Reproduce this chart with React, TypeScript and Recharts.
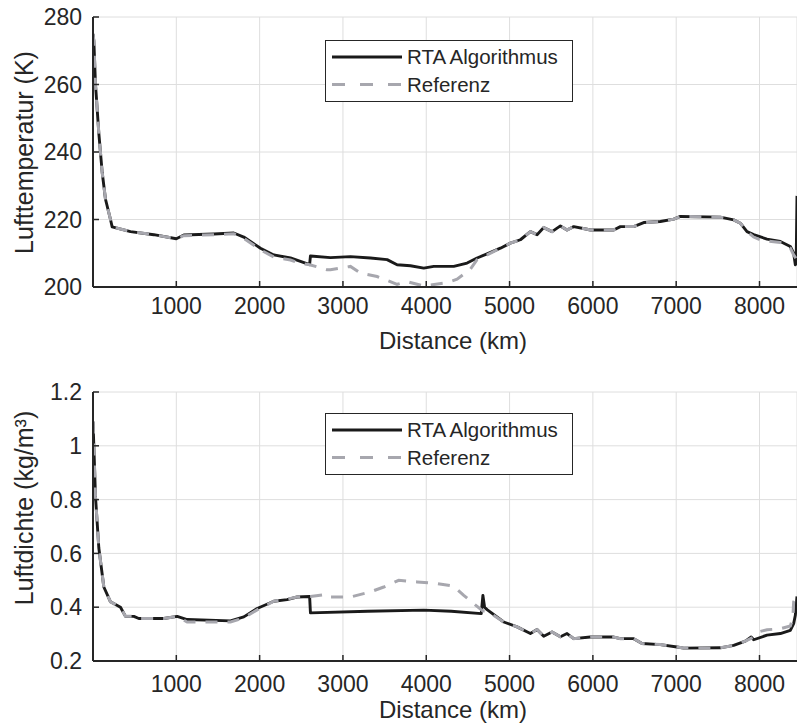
import React from "react";
import { LineChart, Line, XAxis, YAxis, CartesianGrid, Legend } from "recharts";

const FONT = '"Liberation Sans", Arial, Helvetica, sans-serif';
const INK = "#262626";
const RTA_COLOR = "#1a1a1a";
const REF_COLOR = "#a7a7ae";

const distanceTicks = [1000, 2000, 3000, 4000, 5000, 6000, 7000, 8000];
const tempTicks = [200, 220, 240, 260, 280];
const densityTicks = [0.2, 0.4, 0.6, 0.8, 1, 1.2];

// Lufttemperatur (K) - RTA Algorithmus
const rtaTempDist = [
    0, 10, 30, 70, 110, 150, 210, 230, 450, 730, 1000, 1090, 1450, 1690, 1810, 2010, 2170, 2370, 2490, 2600,
    2610, 2850, 3090, 3330, 3530, 3650, 3810, 3970, 4090, 4330, 4490, 4610, 4730, 4890, 5010, 5130, 5250, 5330,
    5410, 5510, 5610, 5690, 5770, 5930, 5970, 6250, 6330, 6490, 6610, 6810, 6970, 7050, 7530, 7690, 7770, 7850,
    7930, 8090, 8250, 8370, 8410, 8430, 8440, 8450,
];
const rtaTemp = [
    275, 273, 260, 245.5, 234, 226, 220, 217.8, 216.4, 215.5, 214.3, 215.4, 215.7, 216.0, 214.8, 211.5, 209.5,
    208.6, 207.6, 206.6, 209.2, 208.7, 209.0, 208.6, 208.1, 206.6, 206.3, 205.6, 206.1, 206.1, 207.1, 208.6, 209.8,
    211.5, 213.0, 214.0, 216.4, 215.5, 217.6, 216.4, 218.1, 216.9, 217.9, 217.1, 216.9, 216.9, 217.9, 217.9, 219.1,
    219.4, 220.1, 220.9, 220.7, 219.9, 218.9, 216.4, 215.5, 214.2, 213.5, 212.0, 210.0, 206.6, 207, 227,
];

// Lufttemperatur (K) - Referenz
const refTempDist = [
    0, 10, 30, 70, 110, 150, 210, 230, 450, 730, 1000, 1090, 1450, 1690, 1810, 2010, 2170, 2370, 2490, 2600,
    2810, 2850, 3090, 3210, 3410, 3650, 3770, 3970, 4250, 4370, 4530, 4610, 4730, 4890, 5010, 5130, 5250, 5330,
    5410, 5510, 5610, 5690, 5770, 5930, 5970, 6250, 6330, 6490, 6610, 6810, 6970, 7050, 7530, 7690, 7770, 7850,
    7930, 8050, 8090, 8250, 8370, 8410, 8450,
];
const refTemp = [
    275, 273, 260, 245.5, 234, 226, 220, 217.8, 216.4, 215.5, 214.3, 215.2, 215.5, 215.8, 214.4, 211, 208.9, 208,
    207, 206.6, 205.1, 205.1, 206.1, 204.1, 203.1, 200.8, 201.6, 200.3, 201.3, 202.3, 205.3, 208.1, 209.5, 211.5,
    213, 214, 216.4, 215.5, 217.6, 216.4, 218.1, 216.9, 217.9, 217.1, 216.9, 216.9, 217.9, 217.9, 219.1, 219.4,
    220.1, 220.9, 220.7, 219.9, 218.9, 216.4, 214.8, 213.5, 213.6, 213.2, 211.5, 209.5, 208,
];

// Luftdichte (kg/m³) - RTA Algorithmus
const rtaDensDist = [
    0, 10, 30, 70, 130, 210, 330, 390, 490, 550, 850, 1010, 1130, 1650, 1810, 1970, 2170, 2330, 2450, 2600, 2610,
    3300, 3970, 4300, 4660, 4680, 4700, 4730, 4930, 5090, 5250, 5330, 5410, 5510, 5610, 5690, 5770, 5970, 6250,
    6330, 6490, 6590, 6810, 7010, 7090, 7530, 7690, 7830, 7900, 7930, 8090, 8250, 8370, 8410, 8430, 8450,
];
const rtaDens = [
    1.09, 1.0, 0.81, 0.62, 0.475, 0.42, 0.4, 0.366, 0.366, 0.358, 0.358, 0.366, 0.354, 0.349, 0.364, 0.395, 0.422,
    0.428, 0.438, 0.44, 0.379, 0.385, 0.389, 0.385, 0.376, 0.444, 0.4, 0.391, 0.345, 0.327, 0.302, 0.317, 0.292,
    0.308, 0.29, 0.302, 0.283, 0.289, 0.289, 0.283, 0.283, 0.265, 0.261, 0.252, 0.248, 0.249, 0.258, 0.274, 0.289,
    0.279, 0.296, 0.302, 0.314, 0.339, 0.37, 0.44,
];

// Luftdichte (kg/m³) - Referenz
const refDensDist = [
    0, 10, 30, 70, 130, 210, 330, 390, 490, 550, 850, 1010, 1130, 1650, 1810, 1970, 2170, 2330, 2450, 2610, 2810,
    2850, 3090, 3330, 3490, 3670, 3890, 4130, 4330, 4450, 4570, 4680, 4730, 4930, 5090, 5250, 5330, 5410, 5510,
    5610, 5690, 5770, 5970, 6250, 6330, 6490, 6590, 6810, 7010, 7090, 7530, 7690, 7830, 7930, 8010, 8090, 8250,
    8370, 8400, 8410, 8450,
];
const refDens = [
    1.09, 1.0, 0.81, 0.62, 0.475, 0.42, 0.4, 0.366, 0.366, 0.358, 0.358, 0.366, 0.345, 0.345, 0.36, 0.39, 0.422,
    0.43, 0.438, 0.44, 0.448, 0.438, 0.438, 0.457, 0.475, 0.5, 0.494, 0.488, 0.478, 0.444, 0.413, 0.386, 0.385,
    0.345, 0.327, 0.302, 0.317, 0.292, 0.308, 0.29, 0.302, 0.283, 0.289, 0.289, 0.283, 0.283, 0.265, 0.261, 0.252,
    0.248, 0.249, 0.258, 0.274, 0.289, 0.31, 0.316, 0.32, 0.33, 0.36, 0.42, 0.44,
];

const toPoints = (dist: number[], vals: number[]) => dist.map((d, i) => ({ d, v: vals[i] }));

function XTick({ x, y, payload }: any) {
    return (
        <text x={x} y={y} textAnchor="middle" fontSize={23} fontFamily={FONT} fill={INK}>
            {payload.value}
        </text>
    );
}

function YTick({ x, y, payload }: any) {
    return (
        <text x={x} y={y} dy="0.36em" textAnchor="end" fontSize={23} fontFamily={FONT} fill={INK}>
            {String(payload.value)}
        </text>
    );
}

function LegendBox({ payload }: any) {
    const rows = payload ?? [];
    return (
        <svg width={248} height={62} style={{ display: "block" }}>
            <rect x={0.5} y={0.5} width={247} height={61} fill="#fff" stroke={INK} strokeWidth={1} />
            {rows.map((entry: any, i: number) => {
                const cy = 17 + i * 27.5;
                const dashed = entry.payload?.strokeDasharray;
                return (
                    <g key={entry.value}>
                        <line
                            x1={7}
                            x2={77}
                            y1={cy}
                            y2={cy}
                            stroke={entry.color}
                            strokeWidth={3}
                            strokeDasharray={dashed ? "13 15" : undefined}
                        />
                        <text x={82} y={cy} dy="0.36em" fontSize={20.5} fontFamily={FONT} fill={INK}>
                            {entry.value}
                        </text>
                    </g>
                );
            })}
        </svg>
    );
}

interface PanelProps {
    top: number;
    height: number;
    marginTop: number;
    marginBottom: number;
    rta: { d: number; v: number }[];
    reference: { d: number; v: number }[];
    domain: [number, number];
    ticks: number[];
    tickGap: number;
    legendTop: number;
}

function Panel({ top, height, marginTop, marginBottom, rta, reference, domain, ticks, tickGap, legendTop }: PanelProps) {
    return (
        <div style={{ position: "absolute", left: 0, top }}>
            <LineChart
                width={797}
                height={height}
                margin={{ top: marginTop, right: 0, bottom: marginBottom, left: 0 }}
            >
                <CartesianGrid stroke="#dedede" strokeWidth={1} />
                <XAxis
                    type="number"
                    dataKey="d"
                    domain={[0, 8450]}
                    ticks={distanceTicks}
                    allowDataOverflow
                    height={60}
                    tickSize={-6}
                    tickMargin={6 + tickGap}
                    tick={<XTick />}
                    axisLine={{ stroke: INK, strokeWidth: 2 }}
                    tickLine={{ stroke: INK, strokeWidth: 1.5 }}
                />
                <YAxis
                    type="number"
                    domain={domain}
                    ticks={ticks}
                    allowDataOverflow
                    width={93}
                    tickSize={-6}
                    tickMargin={17}
                    tick={<YTick />}
                    axisLine={{ stroke: INK, strokeWidth: 2 }}
                    tickLine={{ stroke: INK, strokeWidth: 1.5 }}
                />
                <Legend
                    layout="vertical"
                    align="center"
                    verticalAlign="middle"
                    content={(props: any) => <LegendBox payload={props.payload} />}
                    wrapperStyle={{ left: 325, top: legendTop, width: 248, height: 62 }}
                />
                <Line
                    name="RTA Algorithmus"
                    data={rta}
                    dataKey="v"
                    type="linear"
                    stroke={RTA_COLOR}
                    strokeWidth={2.9}
                    strokeLinejoin="round"
                    dot={false}
                    activeDot={false}
                    isAnimationActive={false}
                />
                <Line
                    name="Referenz"
                    data={reference}
                    dataKey="v"
                    type="linear"
                    stroke={REF_COLOR}
                    strokeWidth={3}
                    strokeDasharray="12 10"
                    dot={false}
                    activeDot={false}
                    isAnimationActive={false}
                />
            </LineChart>
        </div>
    );
}

export default function App() {
    return (
        <div style={{ position: "absolute", left: 0, top: 0, width: 797, height: 727, background: "#fff" }}>
            <Panel
                top={0}
                height={350}
                marginTop={17}
                marginBottom={3}
                rta={toPoints(rtaTempDist, rtaTemp)}
                reference={toPoints(refTempDist, refTemp)}
                domain={[200, 280]}
                ticks={tempTicks}
                tickGap={27}
                legendTop={40}
            />
            <Panel
                top={360}
                height={367}
                marginTop={32}
                marginBottom={6}
                rta={toPoints(rtaDensDist, rtaDens)}
                reference={toPoints(refDensDist, refDens)}
                domain={[0.2, 1.2]}
                ticks={densityTicks}
                tickGap={31}
                legendTop={53}
            />
            <svg
                width={797}
                height={727}
                style={{ position: "absolute", left: 0, top: 0, pointerEvents: "none" }}
            >
                <text x={453} y={349} textAnchor="middle" fontSize={24} fontFamily={FONT} fill={INK}>
                    Distance (km)
                </text>
                <text x={453} y={718} textAnchor="middle" fontSize={24} fontFamily={FONT} fill={INK}>
                    Distance (km)
                </text>
                <text
                    x={33}
                    y={152.5}
                    transform="rotate(-90, 33, 152.5)"
                    textAnchor="middle"
                    fontSize={25}
                    fontFamily={FONT}
                    fill={INK}
                >
                    Lufttemperatur (K)
                </text>
                <text
                    x={33}
                    y={508}
                    transform="rotate(-90, 33, 508)"
                    textAnchor="middle"
                    fontSize={25}
                    fontFamily={FONT}
                    fill={INK}
                >
                    Luftdichte (kg/m³)
                </text>
            </svg>
        </div>
    );
}
